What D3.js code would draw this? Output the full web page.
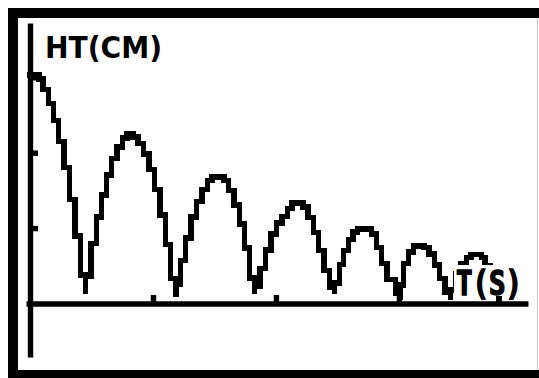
<!DOCTYPE html>
<html>
<head>
<meta charset="utf-8">
<script src="https://cdn.jsdelivr.net/npm/d3@7"></script>
<style>
  html, body { margin: 0; padding: 0; background: #fff; }
  svg { display: block; }
</style>
</head>
<body>
<div id="chart"></div>
<script>
// bouncing ball trace: time (s) vs height (cm)
const timeS = [
  0, 0.037, 0.053, 0.075, 0.096, 0.116, 0.138, 0.161, 0.183, 0.205, 0.226,
  0.248, 0.270, 0.291, 0.311, 0.331, 0.354, 0.376, 0.394, 0.419, 0.439, 0.461, 0.484, 0.506, 0.528, 0.551, 0.571, 0.593,
  0.612, 0.632, 0.654, 0.677, 0.699, 0.722, 0.740, 0.789, 0.807, 0.829, 0.852, 0.872, 0.892, 0.913,
  0.935, 0.957, 0.980, 1.002, 1.024, 1.047, 1.065, 1.110, 1.130, 1.152, 1.173, 1.195, 1.217, 1.238,
  1.258, 1.274, 1.295, 1.313, 1.331, 1.388, 1.409, 1.429, 1.451, 1.486, 1.504,
  1.518, 1.539, 1.559, 1.577, 1.602, 1.622, 1.644, 1.665, 1.687, 1.709,
  1.732, 1.752, 1.774, 1.793, 1.837, 1.850, 1.870, 1.890, 1.907
];
const heightCm = [
  30.3, 30.3, 29.2, 27.6, 25.5, 23.0, 19.9, 16.1, 11.5, 6.4, 1.2,
  6.0, 9.9, 13.0, 15.8, 18.3, 20.1, 21.4, 22.5, 22.5, 21.7, 20.7, 19.0, 16.6, 13.6, 9.9, 5.8, 0.8,
  4.3, 7.1, 10.3, 12.6, 14.4, 15.8, 16.8, 16.8, 15.8, 14.1, 12.0, 9.1, 5.6, 1.2,
  3.4, 5.9, 8.3, 10.1, 11.2, 11.9, 13.3, 13.3, 12.3, 10.5, 8.4, 5.6, 3.1, 1.2,
  4.2, 6.2, 7.9, 9.1, 9.9, 9.9, 8.5, 6.4, 4.2, 2.1, 0.5,
  4.4, 6.2, 7.5, 7.7, 7.7, 7.1, 6.0, 4.2, 2.5, 0.5,
  3.1, 4.8, 5.7, 6.5, 6.5, 5.7, 4.4, 2.6, 0.5
];
const xTicks = [0.5, 1, 1.5];
const yTicks = [10, 20, 30];
const yLabel = "HT(CM)";
const xLabel = "T(S)";

// calculator window (axis extents)
const xMin = -0.0163, xMax = 2.025;
const yMin = -7.1, yMax = 37.2;

const W = 539, H = 378;
const pix = 5.4; // one calculator pixel

const svg = d3.select("#chart").append("svg")
    .attr("width", W)
    .attr("height", H);

// screen bezel
svg.append("rect").attr("x", 8).attr("y", 8).attr("width", W - 8).attr("height", 10).attr("fill", "#000");
svg.append("rect").attr("x", 8).attr("y", 8).attr("width", 10).attr("height", H - 8).attr("fill", "#000");
svg.append("rect").attr("x", 8).attr("y", 370).attr("width", W - 8).attr("height", 8).attr("fill", "#000");
svg.append("line").attr("x1", 537.5).attr("x2", 537.5).attr("y1", 18).attr("y2", 370)
    .attr("stroke", "#c8c8c8").attr("stroke-width", 1);

const x = d3.scaleLinear().domain([xMin, xMax]).range([26, 528]);
const y = d3.scaleLinear().domain([yMin, yMax]).range([357, 23]);

// x axis, ticks pointing up
const gx = svg.append("g")
    .attr("transform", "translate(0," + y(0) + ")")
    .call(d3.axisBottom(x).tickValues(xTicks).tickSize(-8.5).tickSizeOuter(0).tickFormat(""));

// y axis, ticks pointing right
const gy = svg.append("g")
    .attr("transform", "translate(" + x(0) + ",0)")
    .call(d3.axisLeft(y).tickValues(yTicks).tickSize(-8).tickSizeOuter(0).tickFormat(""));

[gx, gy].forEach(function(g) {
    g.select(".domain").attr("stroke", "#000").attr("stroke-width", pix);
    g.selectAll(".tick line").attr("stroke", "#000").attr("stroke-width", pix);
});

// calculator-style raster: each sample is a vertical run in its own column,
// reaching halfway to the neighbours, joined by short horizontal steps
function curvePixel(context) {
    let p = [];
    return {
        areaStart: function() {},
        areaEnd: function() {},
        lineStart: function() { p = []; },
        point: function(px, py) { p.push([+px, +py]); },
        lineEnd: function() {
            const n = p.length;
            if (!n) return;
            context.moveTo(p[0][0], p[0][1]);
            for (let k = 0; k < n; k++) {
                const mPrev = k > 0 ? (p[k - 1][1] + p[k][1]) / 2 : p[k][1];
                const mNext = k < n - 1 ? (p[k][1] + p[k + 1][1]) / 2 : p[k][1];
                context.lineTo(p[k][0], mPrev);
                context.lineTo(p[k][0], p[k][1]);
                context.lineTo(p[k][0], mNext);
                if (k < n - 1) context.lineTo(p[k + 1][0], mNext);
            }
        }
    };
}

const pts = timeS.map(function(t, i) { return [t, heightCm[i]]; });
const line = d3.line()
    .curve(curvePixel)
    .x(function(d) { return x(d[0]); })
    .y(function(d) { return y(d[1]); });

svg.append("path")
    .datum(pts)
    .attr("d", line)
    .attr("fill", "none")
    .attr("stroke", "#000")
    .attr("stroke-width", pix)
    .attr("stroke-linejoin", "miter")
    .attr("stroke-linecap", "square")
    .attr("shape-rendering", "crispEdges");

// x label is printed over the trace
svg.append("rect")
    .attr("x", 454).attr("y", 265)
    .attr("width", 72).attr("height", 31)
    .attr("fill", "#fff");
svg.append("text")
    .attr("x", 456)
    .attr("y", 295)
    .attr("font-family", "DejaVu Sans Mono")
    .attr("font-weight", "bold")
    .attr("font-size", 34)
    .attr("textLength", 66)
    .attr("lengthAdjust", "spacingAndGlyphs")
    .attr("fill", "#000")
    .attr("stroke", "#000")
    .attr("stroke-width", 1.6)
    .text(xLabel);

svg.append("text")
    .attr("x", 45)
    .attr("y", 58)
    .attr("font-family", "DejaVu Sans")
    .attr("font-weight", "bold")
    .attr("font-size", 31)
    .attr("textLength", 117)
    .attr("lengthAdjust", "spacingAndGlyphs")
    .attr("fill", "#000")
    .text(yLabel);
</script>
</body>
</html>
